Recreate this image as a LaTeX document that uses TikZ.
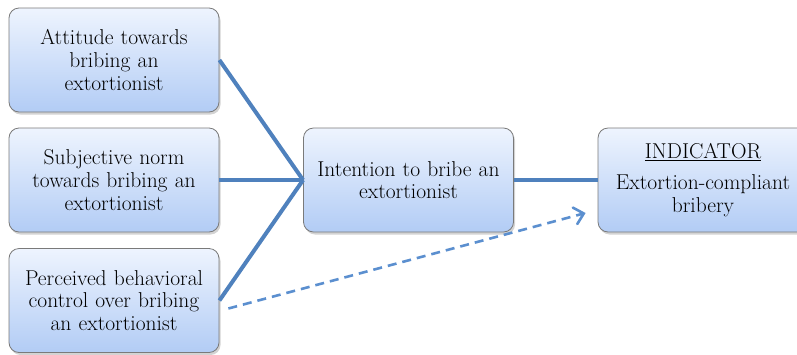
\documentclass[tikz,border=0pt]{standalone}
\usepackage{fontspec}
\usetikzlibrary{arrows.meta,shadows,calc}
\definecolor{boxtop}{HTML}{EEF4FE}
\definecolor{boxbot}{HTML}{B2CCF5}
\definecolor{boxedge}{HTML}{7A7A7A}
\definecolor{linkblue}{HTML}{4F81BD}
\definecolor{dashblue}{HTML}{5B8FCF}
\begin{document}
\begin{tikzpicture}[x=1pt,y=-1pt,
  factor/.style={draw=boxedge, line width=0.8pt, rounded corners=10pt,
    top color=boxtop, bottom color=boxbot,
    minimum width=210pt, minimum height=104pt, inner sep=0pt,
    align=center, text width=208pt,
    font=\fontsize{21.5}{22.7}\selectfont,
    drop shadow={opacity=0.35, shadow xshift=1.5pt, shadow yshift=-2.5pt}},
  link/.style={draw=linkblue, line width=4pt},
  dashlink/.style={draw=dashblue, line width=2.6pt, dash pattern=on 9pt off 6pt,
    -{Straight Barb[length=9pt,width=17pt,line cap=round]}}]
\useasboundingbox (0,0) rectangle (797,354);

\node[factor] (att) at (114,60) {Attitude towards\\bribing an\\extortionist};
\node[factor] (norm) at (114,180) {Subjective norm\\towards bribing an\\extortionist};
\node[factor] (pbc) at (114,300.5) {Perceived behavioral\\control over bribing\\an extortionist};
\node[factor] (int) at (408.5,180) {Intention to bribe an\\extortionist};
\node[factor] (ind) at (703,180) {\underline{INDICATOR}\\[8pt]Extortion-compliant\\bribery};

\draw[link] (att.east) -- (int.west);
\draw[link] (norm.east) -- (int.west);
\draw[link] (pbc.east) -- (int.west);
\draw[link] (int.east) -- (ind.west);

\coordinate (pbcout) at ($(pbc.east)+(9,8)$);
\coordinate (indin) at ($(ind.west)+(-12,33)$);
\draw[dashlink] (pbcout) -- (indin);
\end{tikzpicture}
\end{document}
